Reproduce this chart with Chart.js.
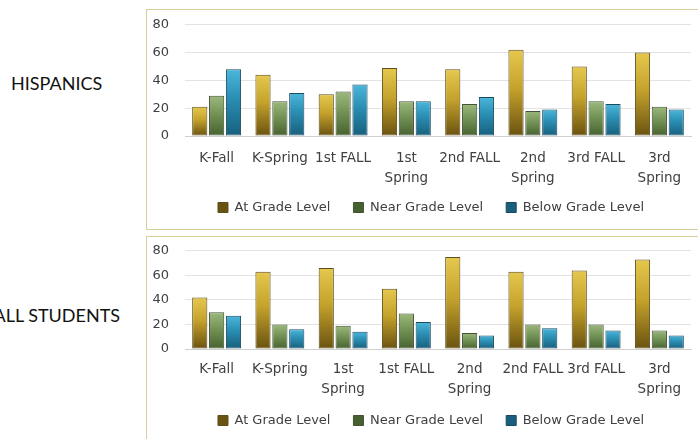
<!DOCTYPE html>
<html>
<head>
<meta charset="utf-8">
<script src="https://cdn.jsdelivr.net/npm/chart.js@4"></script>
<style>
  body { margin: 0; width: 698px; height: 439px; overflow: hidden; background: #fff; position: relative; }
  .etiqueta { position: absolute; font-family: Lato, sans-serif; font-size: 18px; color: #111; white-space: nowrap; }
  .caja { position: absolute; left: 146px; border: 1px solid #d8cf9c; }
  canvas { position: absolute; left: 147px; }
</style>
</head>
<body>
<div class="etiqueta" style="left:11px; top:72px;">HISPANICS</div>
<div class="etiqueta" style="right:578px; top:304px;">ALL STUDENTS</div>
<div class="caja" style="top:9px; width:560px; height:219px;"></div>
<div class="caja" style="top:236px; width:560px; height:220px; border-bottom:none;"></div>
<canvas id="graficoHispanos" width="551" height="235" style="top:1px;"></canvas>
<canvas id="graficoTodos" width="551" height="222" style="top:227px;"></canvas>
<script>
const series = ['At Grade Level', 'Near Grade Level', 'Below Grade Level'];
const ticksY = [0, 20, 40, 60, 80];

// hispanos
const categoriasHispanos = ['K-Fall', 'K-Spring', '1st FALL', ['1st', 'Spring'], '2nd FALL', ['2nd', 'Spring'], '3rd FALL', ['3rd', 'Spring']];
const hispanosAt = [21, 44, 30, 49, 48, 62, 50, 60];
const hispanosNear = [29, 25, 32, 25, 23, 18, 25, 21];
const hispanosBelow = [48, 31, 37, 25, 28, 19, 23, 19];

// todos los estudiantes
const categoriasTodos = ['K-Fall', 'K-Spring', ['1st', 'Spring'], '1st FALL', ['2nd', 'Spring'], '2nd FALL', '3rd FALL', ['3rd', 'Spring']];
const todosAt = [42, 63, 66, 49, 75, 63, 64, 73];
const todosNear = [30, 20, 19, 29, 13, 20, 20, 15];
const todosBelow = [27, 16, 14, 22, 11, 17, 15, 11];

const colores = [
    { arriba: '#e6c84e', medio: '#c4a22c', abajo: '#6a5210', borde: '#5e4e1a' },
    { arriba: '#9db97d', medio: '#739356', abajo: '#46612f', borde: '#435236' },
    { arriba: '#4cb6db', medio: '#2a8db2', abajo: '#175f7c', borde: '#1b4a60' }
];

function degradado(c) {
    return function (ctx) {
        const chart = ctx.chart;
        const y = chart.scales && chart.scales.y;
        if (ctx.type !== 'data' || !y || !chart.chartArea) return c.medio;
        const tope = y.getPixelForValue(ctx.raw);
        const base = y.getPixelForValue(0);
        if (!isFinite(tope) || !isFinite(base) || base - tope < 1) return c.medio;
        const g = chart.ctx.createLinearGradient(0, tope, 0, base);
        g.addColorStop(0, c.arriba);
        g.addColorStop(0.45, c.medio);
        g.addColorStop(1, c.abajo);
        return g;
    };
}

// mueve la leyenda hacia arriba / derecha despues del layout
const moverLeyenda = {
    id: 'moverLeyenda',
    afterLayout(chart, args, opts) {
        const l = chart.legend;
        if (!l) return;
        l.top -= opts.dy; l.bottom -= opts.dy;
        l.left += opts.dx; l.right += opts.dx;
    }
};

const fuente = "'DejaVu Sans', sans-serif";

function crearGrafico(id, categorias, valores, padTicks, dy) {
    const ctx = document.getElementById(id).getContext('2d');
    return new Chart(ctx, {
        type: 'bar',
        data: {
            labels: categorias,
            datasets: valores.map((v, i) => ({
                label: series[i],
                data: v,
                backgroundColor: degradado(colores[i]),
                borderColor: colores[i].borde,
                borderWidth: 1,
                borderSkipped: false,
                categoryPercentage: 0.8,
                barPercentage: 0.9
            }))
        },
        plugins: [moverLeyenda],
        options: {
            responsive: false,
            animation: false,
            layout: { padding: { top: 0, bottom: 0, left: 0, right: 7 } },
            plugins: {
                tooltip: { enabled: false },
                moverLeyenda: { dx: 12, dy: dy },
                legend: {
                    position: 'bottom',
                    labels: {
                        boxWidth: 10,
                        boxHeight: 10,
                        padding: 23,
                        color: '#404040',
                        font: { family: fuente, size: 13 }
                    }
                }
            },
            scales: {
                x: {
                    grid: { display: false, drawTicks: false },
                    border: { display: true, color: '#cfcfcf' },
                    ticks: {
                        color: '#404040',
                        maxRotation: 0,
                        autoSkip: false,
                        padding: padTicks,
                        font: { family: fuente, size: 13.5, lineHeight: '20px' }
                    },
                    afterFit: s => { s.height = 54; }
                },
                y: {
                    min: 0,
                    max: 80,
                    afterBuildTicks: s => { s.ticks = ticksY.map(v => ({ value: v })); },
                    grid: { color: '#e3e3e3', drawTicks: false },
                    border: { display: false },
                    ticks: {
                        color: '#404040',
                        padding: 16,
                        font: { family: fuente, size: 13 }
                    },
                    afterFit: s => { s.width = 38; }
                }
            }
        }
    });
}

crearGrafico('graficoHispanos', categoriasHispanos, [hispanosAt, hispanosNear, hispanosBelow], 12, 12);
crearGrafico('graficoTodos', categoriasTodos, [todosAt, todosNear, todosBelow], 10, 12);
</script>
</body>
</html>
